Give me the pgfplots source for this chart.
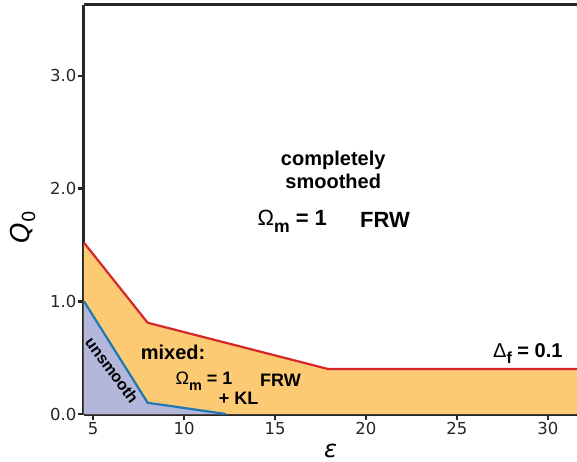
\documentclass[border=0pt]{standalone}
\usepackage{pgfplots}
\pgfplotsset{compat=1.18}
\usepackage{fontspec}
\setmainfont{DejaVu Sans}
\newfontfamily\hel{Liberation Sans}
\definecolor{spine}{HTML}{262626}
\definecolor{orfill}{HTML}{FDCA74}
\definecolor{blfill}{HTML}{B3B7DC}
\definecolor{redl}{HTML}{D62728}
\definecolor{bluel}{HTML}{1F77B4}
\newcommand{\sub}[1]{\raisebox{-0.3em}{\fontsize{0.8\dimexpr\fontdimen6\font\relax}{1}\selectfont #1}}
\newcommand{\tickfont}{\fontsize{16.5}{18}\selectfont}
\begin{document}
\begin{tikzpicture}[x=1pt,y=1pt]
\path[use as bounding box] (-84,-47) rectangle (493,414);
\begin{axis}[
  at={(0,0)}, anchor=south west,
  scale only axis, width=493pt, height=409pt,
  xmin=4.5, xmax=31.6, ymin=0, ymax=3.63,
  axis x line*=box, axis y line*=left,
  xtick pos=bottom, ytick pos=left,
  xtick={5,10,15,20,25,30}, ytick={0,1,2,3},
  tick align=outside,
  major tick length=6pt,
  every tick/.style={spine, line width=2.4pt},
  axis line style={spine, line width=3pt},
  yticklabels={0.0, 1.0, 2.0, 3.0},
  xticklabels={5, 10, 15, 20, 25, 30},
  yticklabel style={font=\tickfont, text=spine, xshift=2pt},
  xticklabel style={font=\tickfont, text=spine, yshift=1pt},
  clip=false,
]
\addplot[fill=orfill, draw=none] coordinates {(4.5,0) (4.5,1.52) (8,0.81) (17.9,0.40) (31.6,0.40) (31.6,0)} -- cycle;
\addplot[fill=blfill, draw=none] coordinates {(4.5,0) (4.5,1.0) (8,0.10) (12.3,0)} -- cycle;
\addplot[redl, line width=2.2pt] coordinates {(4.5,1.52) (8,0.81) (17.9,0.40) (31.6,0.40)};
\addplot[bluel, line width=2.2pt] coordinates {(4.5,1.0) (8,0.10) (12.3,0)};
\node[font=\hel\bfseries\fontsize{20}{22}\selectfont, align=center] at (axis cs:18.2,2.17) {completely\\[1pt]smoothed};
\node[font=\hel\bfseries\fontsize{22}{24}\selectfont] at (axis cs:15.95,1.71) {{\mdseries Ω}\sub{m} = 1};
\node[font=\hel\bfseries\fontsize{22}{24}\selectfont] at (axis cs:21.05,1.72) {FRW};
\node[font=\hel\bfseries\fontsize{20}{22}\selectfont] at (axis cs:9.4,0.55) {mixed:};
\node[font=\hel\bfseries\fontsize{18}{20}\selectfont] at (axis cs:11.1,0.29) {{\mdseries Ω}\sub{m} = 1};
\node[font=\hel\bfseries\fontsize{18}{20}\selectfont] at (axis cs:15.3,0.30) {FRW};
\node[font=\hel\bfseries\fontsize{18}{20}\selectfont] at (axis cs:13.0,0.14) {+ KL};
\node[font=\hel\bfseries\fontsize{16}{18}\selectfont, rotate=-53.5] at (axis cs:6.04,0.39) {unsmooth};
\node[font=\hel\bfseries\fontsize{20}{22}\selectfont] at (axis cs:28.9,0.54) {{\mdseries Δ}\sub{f} = 0.1};
\node[font=\fontsize{24}{26}\selectfont, anchor=base] at (axis description cs:0.5,-0.107) {\itshape ε};
\node[font=\fontsize{26}{28}\selectfont, rotate=90] at (axis description cs:-0.124,0.457) {\itshape Q\raisebox{-0.25em}{\fontsize{18}{20}\selectfont\upshape 0}};
\end{axis}
\end{tikzpicture}
\end{document}
